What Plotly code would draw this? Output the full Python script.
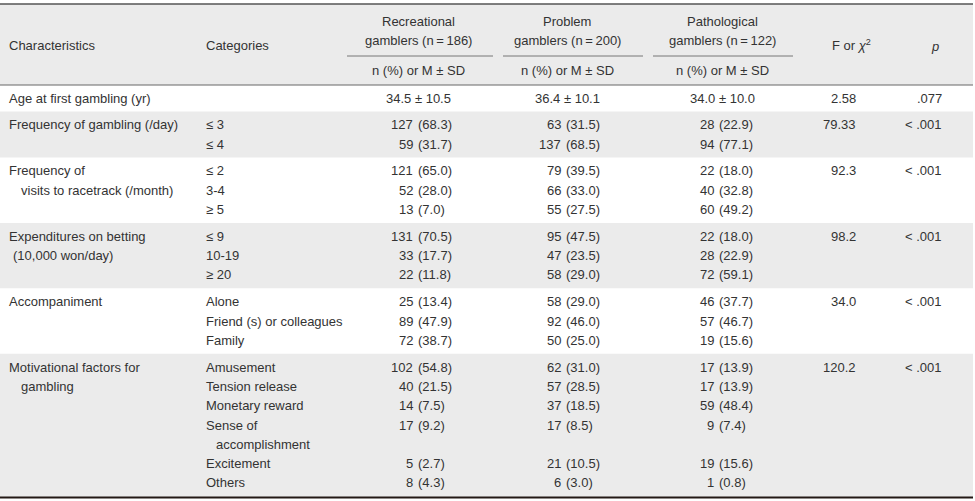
import plotly.graph_objects as go

# ---------------- data ----------------
characteristics = [
    ["Age at first gambling (yr)"],
    ["Frequency of gambling (/day)"],
    ["Frequency of", "visits to racetrack (/month)"],
    ["Expenditures on betting", "(10,000 won/day)"],
    ["Accompaniment"],
    ["Motivational factors for", "gambling"],
]
categories = [
    [""],
    ["≤ 3", "≤ 4"],
    ["≤ 2", "3-4", "≥ 5"],
    ["≤ 9", "10-19", "≥ 20"],
    ["Alone", "Friend (s) or colleagues", "Family"],
    ["Amusement", "Tension release", "Monetary reward", "Sense of|accomplishment", "Excitement", "Others"],
]
group_names = ["Recreational", "Problem", "Pathological"]
group_sizes = [186, 200, 122]
age_mean = ["34.5", "36.4", "34.0"]
age_sd = ["10.5", "10.1", "10.0"]

rec_n = [[127, 59], [121, 52, 13], [131, 33, 22], [25, 89, 72], [102, 40, 14, 17, 5, 8]]
rec_pct = [["68.3", "31.7"], ["65.0", "28.0", "7.0"], ["70.5", "17.7", "11.8"],
           ["13.4", "47.9", "38.7"], ["54.8", "21.5", "7.5", "9.2", "2.7", "4.3"]]
prob_n = [[63, 137], [79, 66, 55], [95, 47, 58], [58, 92, 50], [62, 57, 37, 17, 21, 6]]
prob_pct = [["31.5", "68.5"], ["39.5", "33.0", "27.5"], ["47.5", "23.5", "29.0"],
            ["29.0", "46.0", "25.0"], ["31.0", "28.5", "18.5", "8.5", "10.5", "3.0"]]
path_n = [[28, 94], [22, 40, 60], [22, 28, 72], [46, 57, 19], [17, 17, 59, 9, 19, 1]]
path_pct = [["22.9", "77.1"], ["18.0", "32.8", "49.2"], ["18.0", "22.9", "59.1"],
            ["37.7", "46.7", "15.6"], ["13.9", "13.9", "48.4", "7.4", "15.6", "0.8"]]
f_values = ["2.58", "79.33", "92.3", "98.2", "34.0", "120.2"]
p_values = [".077", "< .001", "< .001", "< .001", "< .001", "< .001"]

# ---------------- layout ----------------
W, H = 975, 501
TXT = "#333333"
GRAY = "#ebebeb"
FONT = "Liberation Sans"
FS = 13

x_char, x_char_ind = 8, 20
x_cat, x_cat_ind = 205, 215
paren_x = [417, 565, 718]
grp_center = [418, 567, 722]
grp_line = [(347, 493), (503, 643), (653, 793)]
x_f_right, x_p_right = 857, 943
x_f_head, x_p_head = 851, 935

y_first, line_h, group_gap = 98, 19.3, 26.8

fig = go.Figure()
fig.add_trace(go.Scatter(x=[0, W], y=[0, H], mode="markers", marker=dict(opacity=0),
                         hoverinfo="skip", showlegend=False))

shapes = []
ann = []

def text(x, y, s, anchor="left", size=FS, italic=False):
    if italic:
        s = "<i>" + s + "</i>"
    ann.append(dict(x=x, y=y, xref="x", yref="y", text=s, showarrow=False,
                    xanchor=anchor, yanchor="middle", borderpad=0,
                    font=dict(family=FONT, size=size, color=TXT)))

# compute line positions per group
group_lines = []
y = y_first
for gi, cats in enumerate(categories):
    n_lines = sum(len(c.split("|")) for c in cats)
    n_lines = max(n_lines, len(characteristics[gi]))
    ys = [y + k * line_h for k in range(n_lines)]
    group_lines.append(ys)
    y = ys[-1] + group_gap

# header band
header_top, header_bot = 4, 85
shapes.append(dict(type="rect", xref="x", yref="y", x0=0, x1=973, y0=header_top, y1=header_bot,
                   fillcolor=GRAY, line=dict(width=0), layer="below"))
# gray body bands on groups 1,3,5
for gi in [1, 3, 5]:
    ys = group_lines[gi]
    top = ys[0] - (group_gap / 2)
    bot = ys[-1] + (group_gap / 2) if gi < 5 else 497
    shapes.append(dict(type="rect", xref="x", yref="y", x0=0, x1=973, y0=top, y1=bot,
                       fillcolor=GRAY, line=dict(width=0), layer="below"))

# rules
shapes.append(dict(type="line", xref="x", yref="y", x0=0, x1=973, y0=header_top, y1=header_top,
                   line=dict(color="#555555", width=1.5)))
shapes.append(dict(type="line", xref="x", yref="y", x0=0, x1=973, y0=header_bot, y1=header_bot,
                   line=dict(color="#666666", width=1)))
for (a, b) in grp_line:
    shapes.append(dict(type="line", xref="x", yref="y", x0=a, x1=b, y0=56, y1=56,
                       line=dict(color="#777777", width=1)))
shapes.append(dict(type="line", xref="x", yref="y", x0=0, x1=973, y0=497.5, y1=497.5,
                   line=dict(color="#231815", width=2)))

# header text
text(x_char, 45, "Characteristics")
text(x_cat, 45, "Categories")
for i in range(3):
    text(grp_center[i], 21, group_names[i], anchor="center")
    text(grp_center[i], 40, "gamblers (n\u2009=\u2009%d)" % group_sizes[i], anchor="center")
    text(grp_center[i], 70, "n (%) or M ± SD", anchor="center")
text(x_f_head, 45, "F or <i>χ</i><sup>2</sup>", anchor="center")
text(x_p_head, 46, "p", anchor="center", italic=True)

# body
n_lists = [rec_n, prob_n, path_n]
p_lists = [rec_pct, prob_pct, path_pct]
for gi in range(len(categories)):
    ys = group_lines[gi]
    for k, lab in enumerate(characteristics[gi]):
        xx = x_char if k == 0 else (x_char + 4 if lab.startswith("(") else x_char_ind)
        text(xx, ys[k], lab)
    text(x_f_right, ys[0], f_values[gi], anchor="right")
    text(x_p_right, ys[0], p_values[gi], anchor="right")
    if gi == 0:
        for i in range(3):
            text(grp_center[i], ys[0], age_mean[i] + " ± " + age_sd[i], anchor="center")
        continue
    li = 0
    for ci, cat in enumerate(categories[gi]):
        parts = cat.split("|")
        for pk, part in enumerate(parts):
            text(x_cat if pk == 0 else x_cat_ind, ys[li + pk], part)
        for i in range(3):
            text(paren_x[i] - 3.5, ys[li], str(n_lists[i][gi - 1][ci]), anchor="right")
            text(paren_x[i], ys[li], "(" + p_lists[i][gi - 1][ci] + ")", anchor="left")
        li += len(parts)

fig.update_layout(
    width=W, height=H, margin=dict(l=0, r=0, t=0, b=0),
    paper_bgcolor="white", plot_bgcolor="white",
    xaxis=dict(range=[0, W], visible=False, fixedrange=True),
    yaxis=dict(range=[H, 0], visible=False, fixedrange=True),
    shapes=shapes, annotations=ann, showlegend=False,
)
fig.write_html("out.html", config={"displayModeBar": False},
               post_script="document.body.style.margin='0';document.body.style.overflow='hidden';")
